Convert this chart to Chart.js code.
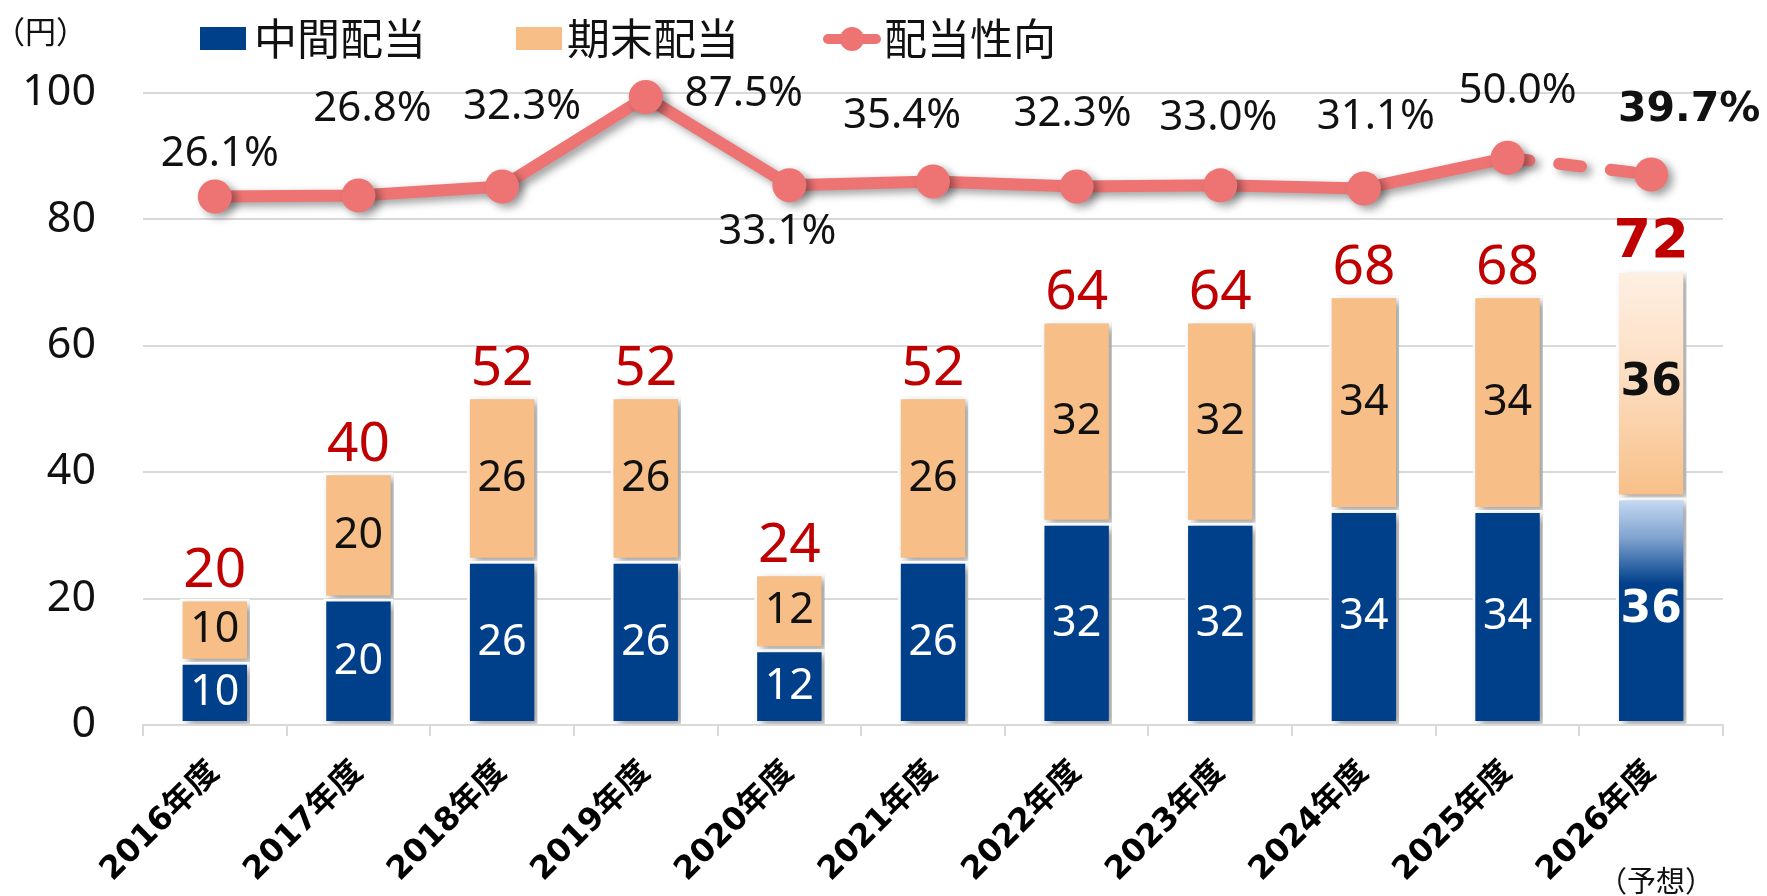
<!DOCTYPE html>
<html>
<head>
<meta charset="utf-8">
<script src="https://cdn.jsdelivr.net/npm/chart.js@4.4.1/dist/chart.umd.min.js"></script>
<style>
  html, body { margin: 0; padding: 0; background: #fff; }
</style>
</head>
<body>
<canvas id="chart" width="1767" height="896"></canvas>
<script>
const categories = ['2016年度', '2017年度', '2018年度', '2019年度', '2020年度', '2021年度',
  '2022年度', '2023年度', '2024年度', '2025年度', '2026年度'];
const seriesNames = ['中間配当', '期末配当', '配当性向'];
const interim = [10, 20, 26, 26, 12, 26, 32, 32, 34, 34, 36];
const yearEnd = [10, 20, 26, 26, 12, 26, 32, 32, 34, 34, 36];
const totals = [20, 40, 52, 52, 24, 52, 64, 64, 68, 68, 72];
const payoutRatio = [26.1, 26.8, 32.3, 87.5, 33.1, 35.4, 32.3, 33.0, 31.1, 50.0, 39.7];

const BLUE = '#003F8A';
const ORANGE = '#F7BF87';
const PINK = '#EE7474';
const RED = '#C00000';
const GRID = '#D9D9D9';
const NUM_FONT = '"Noto Sans", "Noto Sans CJK JP", sans-serif';
const BOLD_FONT = '"DejaVu Sans", "Noto Sans CJK JP", sans-serif';
const JP_FONT = '"Noto Sans CJK JP", "Noto Sans", sans-serif';
const last = categories.length - 1; // forecast year

// where each payout label sits, relative to its point (px)
const pctOffsets = [[5, -43], [14, -86], [20, -79], [98, -3], [-12, 47], [-31, -65],
  [-4, -72], [-2, -67], [12, -71], [10, -67], [38, -64]];

// forecast bars get a gradient fill
function gradientFill(base, stops) {
  return (ctx) => {
    if (ctx.dataIndex !== last) return base;
    const chart = ctx.chart;
    const y = chart.scales.y;
    if (!chart.chartArea || !y) return base;
    const top = y.getPixelForValue(stops.top);
    const bottom = y.getPixelForValue(stops.bottom);
    const g = chart.ctx.createLinearGradient(0, top, 0, bottom);
    stops.colors.forEach(([at, col]) => g.addColorStop(at, col));
    return g;
  };
}

const shadowPlugin = {
  id: 'shadow',
  beforeDatasetDraw(chart) {
    const c = chart.ctx;
    c.save();
    c.shadowColor = 'rgba(0,0,0,0.38)';
    c.shadowBlur = 8;
    c.shadowOffsetX = 5;
    c.shadowOffsetY = 4;
  },
  afterDatasetDraw(chart) {
    chart.ctx.restore();
  }
};

const labelPlugin = {
  id: 'valueLabels',
  afterDatasetsDraw(chart) {
    const c = chart.ctx;
    const m0 = chart.getDatasetMeta(0);
    const m1 = chart.getDatasetMeta(1);
    const m2 = chart.getDatasetMeta(2);
    c.save();
    c.textAlign = 'center';
    c.textBaseline = 'middle';
    categories.forEach((_, i) => {
      const fc = i === last;
      const b0 = m0.data[i], b1 = m1.data[i], p = m2.data[i];
      c.font = fc ? 'bold 44px ' + BOLD_FONT : '43px ' + NUM_FONT;
      c.fillStyle = '#fff';
      c.fillText(interim[i], b0.x, (b0.y + b0.base) / 2);
      c.fillStyle = '#111';
      c.fillText(yearEnd[i], b1.x, (b1.y + b1.base) / 2);

      c.fillStyle = RED;
      c.font = fc ? 'bold 54px ' + BOLD_FONT : '55px ' + NUM_FONT;
      c.fillText(totals[i], b1.x, b1.y - 27);

      c.fillStyle = '#111';
      c.font = fc ? 'bold 41px ' + BOLD_FONT : '42px ' + NUM_FONT;
      c.fillText(payoutRatio[i].toFixed(1) + '%', p.x + pctOffsets[i][0], p.y + pctOffsets[i][1]);
    });
    c.restore();
  }
};

const legendPlugin = {
  id: 'legendBox',
  afterDraw(chart) {
    const c = chart.ctx;
    c.save();
    c.textBaseline = 'middle';
    c.textAlign = 'left';
    c.font = '43px ' + JP_FONT;
    c.fillStyle = BLUE;
    c.fillRect(200, 27, 46, 23);
    c.fillStyle = '#111';
    c.fillText(seriesNames[0], 254, 39);
    c.fillStyle = ORANGE;
    c.fillRect(516, 27, 46, 23);
    c.fillStyle = '#111';
    c.fillText(seriesNames[1], 567, 39);
    c.strokeStyle = PINK;
    c.lineWidth = 10;
    c.lineCap = 'round';
    c.beginPath();
    c.moveTo(828, 39);
    c.lineTo(876, 39);
    c.stroke();
    c.fillStyle = PINK;
    c.beginPath();
    c.arc(852, 39, 12, 0, Math.PI * 2);
    c.fill();
    c.fillStyle = '#111';
    c.fillText(seriesNames[2], 884, 39);

    c.font = '31px ' + JP_FONT;
    c.fillText('（円）', -6, 31);
    c.font = '29px ' + JP_FONT;
    c.fillText('（予想）', 1598, 881);
    c.restore();
  }
};

new Chart(document.getElementById('chart'), {
  data: {
    labels: categories,
    datasets: [
      {
        type: 'bar',
        label: seriesNames[0],
        data: interim,
        stack: 'div',
        order: 1,
        backgroundColor: gradientFill(BLUE, {
          top: interim[last], bottom: 0,
          colors: [[0, '#CADDF4'], [0.18, '#7FA2CF'], [0.38, BLUE], [1, BLUE]]
        }),
        borderColor: '#fff',
        borderWidth: 3,
        borderSkipped: false,
        barPercentage: 0.49,
        categoryPercentage: 1
      },
      {
        type: 'bar',
        label: seriesNames[1],
        data: yearEnd,
        stack: 'div',
        order: 1,
        backgroundColor: gradientFill(ORANGE, {
          top: totals[last], bottom: interim[last],
          colors: [[0, '#FEF0E4'], [0.5, '#FCDCBE'], [1, ORANGE]]
        }),
        borderColor: '#fff',
        borderWidth: 3,
        borderSkipped: false,
        barPercentage: 0.49,
        categoryPercentage: 1
      },
      {
        type: 'line',
        label: seriesNames[2],
        data: payoutRatio,
        yAxisID: 'y1',
        order: 0,
        clip: false,
        borderColor: PINK,
        backgroundColor: PINK,
        borderWidth: 12,
        borderCapStyle: 'round',
        borderJoinStyle: 'round',
        pointRadius: 17,
        pointHoverRadius: 17,
        pointBorderWidth: 0,
        pointBackgroundColor: PINK,
        segment: {
          borderDash: (ctx) => ctx.p0DataIndex === last - 1 ? [22, 30] : undefined
        }
      }
    ]
  },
  options: {
    responsive: false,
    animation: false,
    events: [],
    layout: { padding: { top: 93, right: 44, bottom: 0, left: 0 } },
    plugins: {
      legend: { display: false },
      tooltip: { enabled: false }
    },
    scales: {
      x: {
        stacked: true,
        grid: {
          display: true,
          drawOnChartArea: false,
          drawTicks: true,
          tickLength: 11,
          color: GRID,
          lineWidth: 2
        },
        border: { display: true, color: GRID, width: 2 },
        ticks: {
          minRotation: 45,
          maxRotation: 45,
          padding: 18,
          color: '#000',
          font: { family: BOLD_FONT, size: 32, weight: 'bold' }
        },
        afterFit: (scale) => { scale.height = 171; }
      },
      y: {
        stacked: true,
        min: 0,
        max: 100,
        ticks: {
          stepSize: 20,
          padding: 47,
          color: '#111',
          font: { family: NUM_FONT, size: 43 }
        },
        grid: { color: GRID, lineWidth: 2, drawTicks: false },
        border: { display: false },
        afterFit: (scale) => { scale.width = 143; }
      },
      y1: {
        display: false,
        min: -300,
        max: 90
      }
    }
  },
  plugins: [shadowPlugin, labelPlugin, legendPlugin]
});
</script>
</body>
</html>
